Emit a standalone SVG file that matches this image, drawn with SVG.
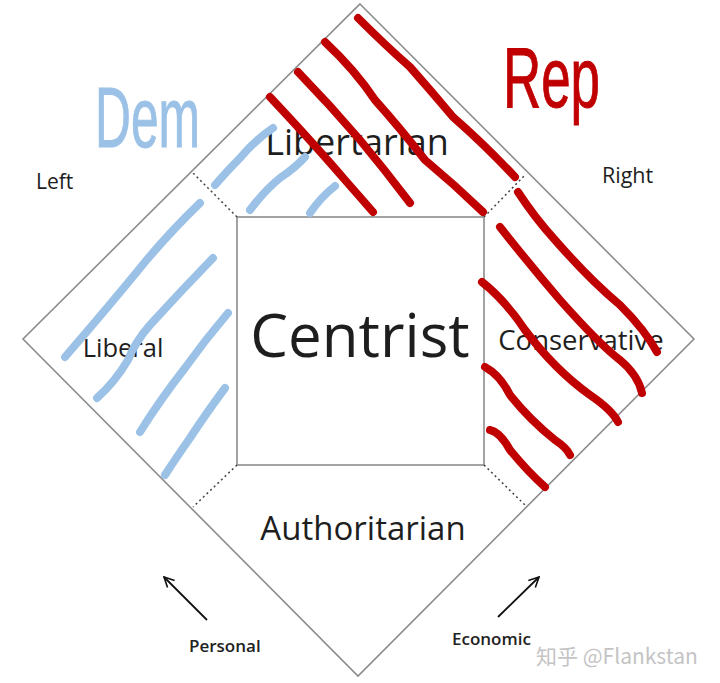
<svg xmlns="http://www.w3.org/2000/svg" width="720" height="683" viewBox="0 0 720 683">
<defs>
<style>
.frame{fill:none;stroke:#8c8c8c;stroke-width:1.6}
.dot{fill:none;stroke:#444;stroke-width:1.5;stroke-dasharray:2 3}
.lbl{font-family:"Open Sans","Noto Sans","DejaVu Sans",sans-serif;fill:#1e1e1e}
.small{font-family:"Open Sans","Noto Sans","DejaVu Sans",sans-serif;fill:#222;font-weight:600}
.blue{fill:none;stroke:#9bc2e6;stroke-width:8;stroke-linecap:round;stroke-linejoin:round}
.red{fill:none;stroke:#c00000;stroke-width:8;stroke-linecap:round;stroke-linejoin:round}
.arr{fill:none;stroke:#111;stroke-width:1.8}
</style>
<marker id="ah" viewBox="0 0 12 12" refX="11" refY="6" markerWidth="12" markerHeight="12" markerUnits="userSpaceOnUse" orient="auto">
<path d="M1,1 L11,6 L1,11" fill="none" stroke="#111" stroke-width="1.6"/>
</marker>
</defs>
<rect width="720" height="683" fill="#fff"/>

<g id="chart">
<path class="frame" d="M360,4 L694,339 L358,676 L23,339 Z"/>
</g>

<g id="centrist">
<rect class="frame" x="237" y="217" width="247" height="248"/>
<text class="lbl" x="360" y="357" font-size="60" text-anchor="middle">Centrist</text>
</g>

<g id="connectors">
<line class="dot" x1="237" y1="217" x2="193" y2="173"/>
<line class="dot" x1="484" y1="217" x2="526" y2="174"/>
<line class="dot" x1="237" y1="465" x2="193" y2="507"/>
<line class="dot" x1="484" y1="465" x2="527" y2="507"/>
<line class="arr" x1="207" y1="620" x2="164" y2="577" marker-end="url(#ah)"/>
<line class="arr" x1="498" y1="617" x2="539" y2="577" marker-end="url(#ah)"/>
</g>

<g id="libertarian"><text class="lbl" x="357" y="155" font-size="36" text-anchor="middle">Libertarian</text></g>
<g id="liberal"><text class="lbl" x="123" y="357" font-size="25.5" text-anchor="middle">Liberal</text></g>
<g id="conservative"><text class="lbl" x="581" y="350" font-size="27.5" text-anchor="middle">Conservative</text></g>
<g id="authoritarian"><text class="lbl" x="363" y="540" font-size="33" text-anchor="middle">Authoritarian</text></g>
<g id="left"><text class="lbl" x="36" y="189" font-size="21">Left</text></g>
<g id="right"><text class="lbl" x="602" y="183" font-size="21.5">Right</text></g>
<g id="personal"><text class="small" x="189" y="652" font-size="17">Personal</text></g>
<g id="economic"><text class="small" x="452" y="645" font-size="17">Economic</text></g>
<g id="watermark"><text x="536" y="664" font-size="21" fill="#c4c4c4" font-family="'Noto Sans CJK SC','Noto Sans',sans-serif">知乎 @Flankstan</text></g>

<g id="dem-marks">
<path class="blue" d="M215,185 Q228,170 240,158 Q255,140 273,128"/>
<path class="blue" d="M250,210 Q265,190 280,178 Q295,168 305,157"/>
<path class="blue" d="M310,213 Q320,198 335,186"/>
<path class="blue" d="M200,203 Q170,232 145,262 Q110,305 65,357"/>
<path class="blue" d="M213,258 Q180,292 150,325 Q135,342 128,360 Q115,382 97,398"/>
<path class="blue" d="M228,313 Q205,340 185,368 Q160,400 140,432"/>
<path class="blue" d="M225,388 Q205,415 190,438 Q176,458 165,475"/>
<text x="95" y="147" font-size="86" fill="#9bc2e6" stroke="#9bc2e6" stroke-width="1" textLength="105" lengthAdjust="spacingAndGlyphs" font-family="'Liberation Sans',sans-serif">Dem</text>
</g>

<g id="rep-marks">
<path class="red" d="M358,18 Q385,45 410,67 Q432,92 453,117 Q485,145 515,177"/>
<path class="red" d="M325,42 Q355,70 375,100 Q400,128 425,160 Q455,185 483,212"/>
<path class="red" d="M298,72 Q330,105 360,140 Q385,170 410,203"/>
<path class="red" d="M270,97 Q315,145 345,180 Q360,197 373,212"/>
<path class="red" d="M518,192 Q535,218 555,240 Q590,280 620,305 Q645,330 657,352"/>
<path class="red" d="M500,227 Q530,265 560,300 Q600,345 620,360 Q638,375 642,393"/>
<path class="red" d="M482,282 Q505,300 525,330 Q555,370 590,395 Q612,410 618,422"/>
<path class="red" d="M485,367 Q500,375 510,395 Q530,420 555,440 Q567,448 570,455"/>
<path class="red" d="M490,430 Q500,432 510,450 Q528,472 545,487"/>
<text x="503" y="107" font-size="86" fill="#c00000" stroke="#c00000" stroke-width="1" textLength="97" lengthAdjust="spacingAndGlyphs" font-family="'Liberation Sans',sans-serif">Rep</text>
</g>
</svg>
